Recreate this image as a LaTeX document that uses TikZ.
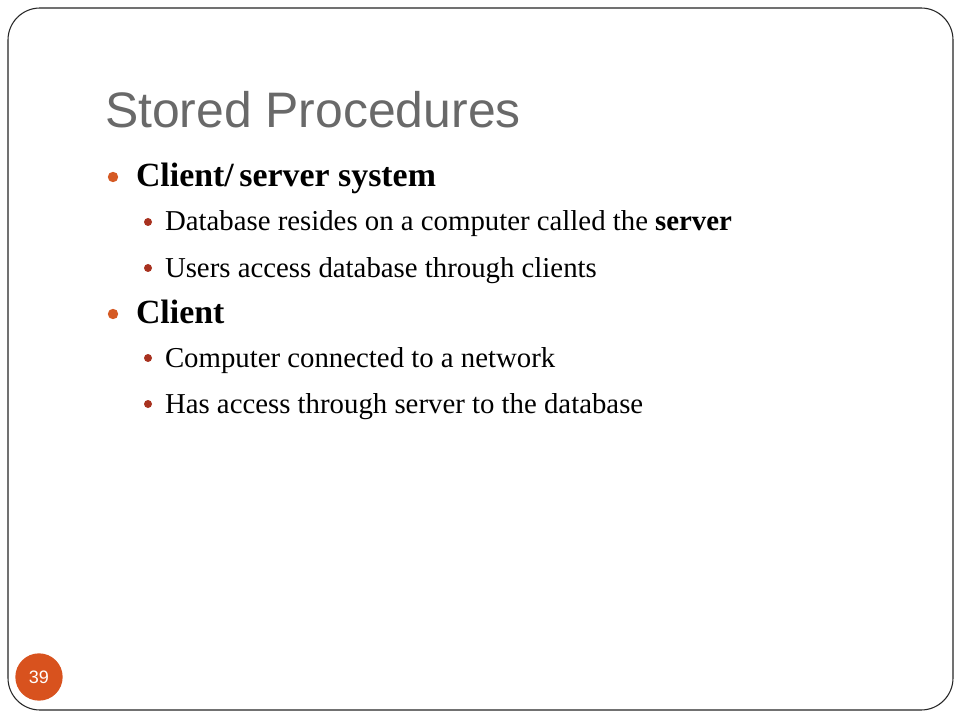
\documentclass[tikz,border=0pt]{standalone}
\usepackage{fontspec}
\newfontfamily\titlefont{Liberation Sans}
\setmainfont{Liberation Serif}
\definecolor{titlegray}{RGB}{105,105,105}
\definecolor{bulletone}{RGB}{213,90,36}
\definecolor{bullettwo}{RGB}{168,50,31}
\definecolor{pagecircle}{RGB}{216,82,30}
\begin{document}
\begin{tikzpicture}[x=0.75pt,y=-0.75pt,
  txt/.style={anchor=base west,inner sep=0pt,outer sep=0pt},
  lvlone/.style={txt,font=\fontsize{25.4}{28}\selectfont\bfseries},
  lvltwo/.style={txt,font=\fontsize{21.6}{24}\selectfont},
  dotone/.style={circle,fill=bulletone,inner sep=0pt,minimum size=7.8pt},
  dottwo/.style={circle,fill=bullettwo,inner sep=0pt,minimum size=6pt}]
\useasboundingbox (0,0) rectangle (960,720);
\fill[white] (0,0) rectangle (960,720);
\draw[line width=0.8pt,black!85,rounded corners=24pt] (8,8) rectangle (953,710);
\node[txt,font=\titlefont\fontsize{37.4}{40}\selectfont,text=titlegray] (title) at (105,128) {Stored Procedures};
\node[dotone] (b1) at (113,177) {};
\node[lvlone] (t1) at (136,187) {Client/\,server system};
\node[dottwo] (b11) at (148,222) {};
\node[lvltwo] (t11) at (165,231) {Database resides on a computer called the \textbf{server}};
\node[dottwo] (b12) at (148,268) {};
\node[lvltwo] (t12) at (165,277) {Users access database through clients};
\node[dotone] (b2) at (113,314) {};
\node[lvlone] (t2) at (136,323) {Client};
\node[dottwo] (b21) at (148,358) {};
\node[lvltwo] (t21) at (165,367) {Computer connected to a network};
\node[dottwo] (b22) at (148,404) {};
\node[lvltwo] (t22) at (165,413) {Has access through server to the database};
\node[circle,fill=pagecircle,minimum size=35.5pt,inner sep=0pt] (pg) at (39,677) {};
\node[txt,anchor=center,text=white,font=\titlefont\fontsize{13.5}{15}\selectfont] (pgnum) at (39,677) {39};
\end{tikzpicture}
\end{document}
